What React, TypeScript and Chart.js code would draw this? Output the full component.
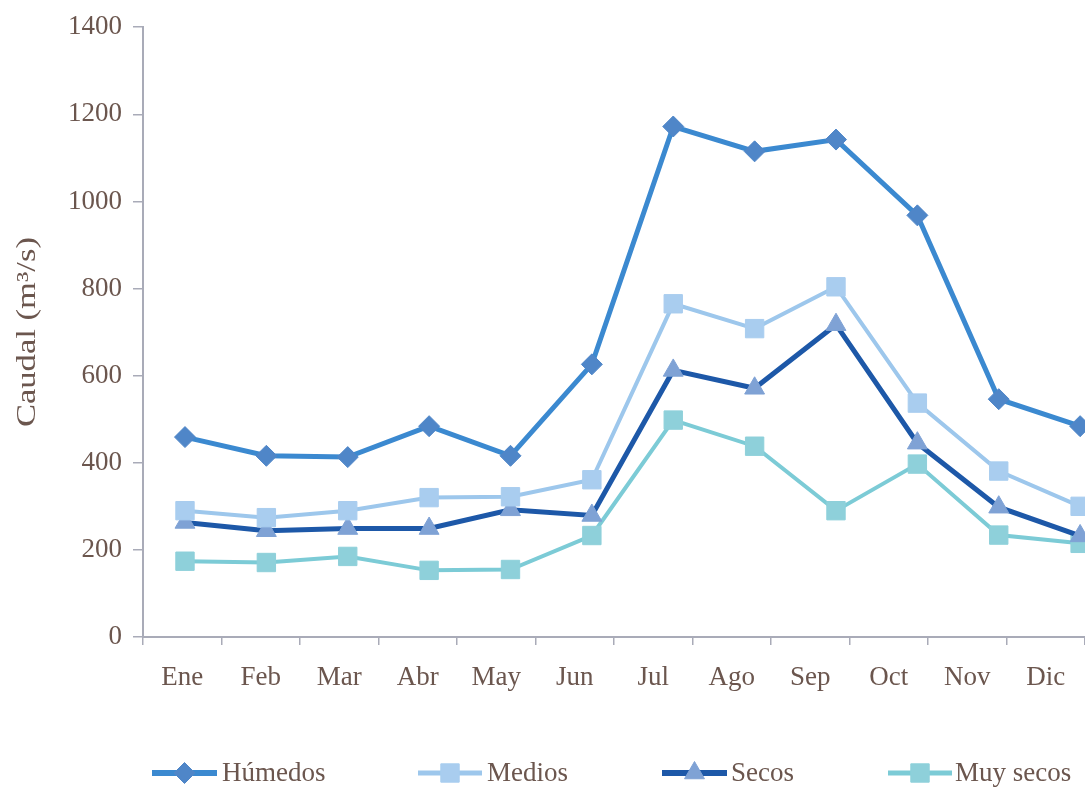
import React, { useEffect, useRef } from "react";
import { Chart, registerables } from "chart.js";
import { drawPoint } from "chart.js/helpers";

Chart.register(...registerables);

const months = ["Ene", "Feb", "Mar", "Abr", "May", "Jun", "Jul", "Ago", "Sep", "Oct", "Nov", "Dic"];
const seriesNames = ["Húmedos", "Medios", "Secos", "Muy secos"];
const humedos = [459, 416, 413, 484, 416, 626, 1172, 1115, 1142, 968, 546, 484];
const medios = [290, 274, 290, 320, 322, 361, 765, 708, 804, 537, 381, 300];
const secos = [263, 244, 249, 249, 292, 279, 612, 571, 717, 445, 298, 232];
const muySecos = [174, 171, 185, 153, 155, 233, 498, 438, 290, 397, 234, 215];
const yMin = 0;
const yMax = 1400;
const yStep = 200;
const yTitle = "Caudal (m³/s)";

const FONT = '"Liberation Serif", "Times New Roman", serif';
const TEXT = "#6b564e";
const AXIS = "#a9abb8";

const styles = [
  { line: "#3b89d0", marker: "#4f86c8", point: "rectRot", radius: 10.5, width: 5 },
  { line: "#9dc7ec", marker: "#a9cdef", point: "rect", radius: 13, width: 4 },
  { line: "#1d58a8", marker: "#7fa2d5", point: "triangle", radius: 11.5, width: 5 },
  { line: "#7ccbd6", marker: "#8ed0da", point: "rect", radius: 13, width: 4 },
];
const seriesValues = [humedos, medios, secos, muySecos];

const legendPos = [
  { x1: 152, x2: 217, text: 222 },
  { x1: 418, x2: 482, text: 487 },
  { x1: 662, x2: 727, text: 731 },
  { x1: 888, x2: 952, text: 955 },
];

const customPlugin = {
  id: "customDecor",
  afterDraw(chart: any) {
    const ctx = chart.ctx;
    ctx.save();
    ctx.font = `27px ${FONT}`;
    ctx.fillStyle = TEXT;
    ctx.textAlign = "center";
    ctx.textBaseline = "middle";
    const w = ctx.measureText(yTitle).width;
    const target = 190;
    const area = chart.chartArea;
    ctx.translate(28, (area.top + area.bottom) / 2);
    ctx.rotate(-Math.PI / 2);
    ctx.scale(target / w, 1);
    ctx.fillText(yTitle, 0, 0);
    ctx.restore();

    ctx.save();
    const y = 773;
    chart.data.datasets.forEach((ds: any, i: number) => {
      const p = legendPos[i];
      const st = styles[i];
      ctx.strokeStyle = st.line;
      ctx.lineWidth = st.width + 1;
      ctx.beginPath();
      ctx.moveTo(p.x1, y);
      ctx.lineTo(p.x2, y);
      ctx.stroke();
      ctx.fillStyle = st.marker;
      ctx.strokeStyle = st.marker;
      ctx.lineWidth = 1;
      drawPoint(ctx, { pointStyle: st.point, radius: st.radius, rotation: 0, borderWidth: 1 } as any, (p.x1 + p.x2) / 2, y);
      ctx.fillStyle = TEXT;
      ctx.font = `27px ${FONT}`;
      ctx.textAlign = "left";
      ctx.textBaseline = "middle";
      ctx.fillText(ds.label, p.text, y + 1);
    });
    ctx.restore();
  },
};

export default function App() {
  const ref = useRef<HTMLCanvasElement | null>(null);
  useEffect(() => {
    if (!ref.current) return;
    const datasets = seriesValues.map((vals, i) => ({
      label: seriesNames[i],
      data: vals.map((v, j) => ({ x: j, y: v })),
      xAxisID: "xd",
      yAxisID: "y",
      borderColor: styles[i].line,
      borderWidth: styles[i].width,
      backgroundColor: styles[i].marker,
      pointBackgroundColor: styles[i].marker,
      pointBorderColor: styles[i].marker,
      pointBorderWidth: 1,
      pointStyle: styles[i].point,
      pointRadius: styles[i].radius,
      tension: 0,
      fill: false,
      clip: false as any,
    }));
    const chart = new Chart(ref.current, {
      type: "line",
      data: { labels: months, datasets: datasets as any },
      plugins: [customPlugin],
      options: {
        animation: false,
        responsive: false,
        maintainAspectRatio: false,
        layout: { autoPadding: false, padding: { top: 8, right: 0, left: 0, bottom: 0 } },
        plugins: { legend: { display: false }, tooltip: { enabled: false } },
        scales: {
          x: {
            type: "category",
            labels: months,
            offset: true,
            position: "bottom",
            grid: { display: true, drawOnChartArea: false, offset: true, tickLength: 8, color: AXIS, lineWidth: 1.5 },
            border: { color: AXIS, width: 2 },
            ticks: { color: TEXT, font: { family: FONT, size: 27 }, padding: 17, maxRotation: 0, autoSkip: false },
            afterFit: (s: any) => {
              s.height = 152;
              s.paddingLeft = 0;
              s.paddingRight = 0;
            },
          },
          xd: {
            type: "linear",
            display: false,
            min: -0.516,
            max: 11.06,
          },
          y: {
            type: "linear",
            min: yMin,
            max: yMax,
            position: "left",
            grid: { display: true, drawOnChartArea: false, tickLength: 10, color: AXIS, lineWidth: 1.5 },
            border: { color: AXIS, width: 2 },
            ticks: {
              stepSize: yStep,
              color: TEXT,
              font: { family: FONT, size: 27 },
              padding: 11,
              callback: (v: any) => String(v),
            },
            afterFit: (s: any) => {
              s.width = 143;
            },
          },
        },
      } as any,
    });
    return () => chart.destroy();
  }, []);
  return (
    <div style={{ position: "absolute", left: 0, top: 0, width: 1085, height: 789, background: "#fff" }}>
      <canvas ref={ref} width={1085} height={789} style={{ display: "block" }} />
    </div>
  );
}
